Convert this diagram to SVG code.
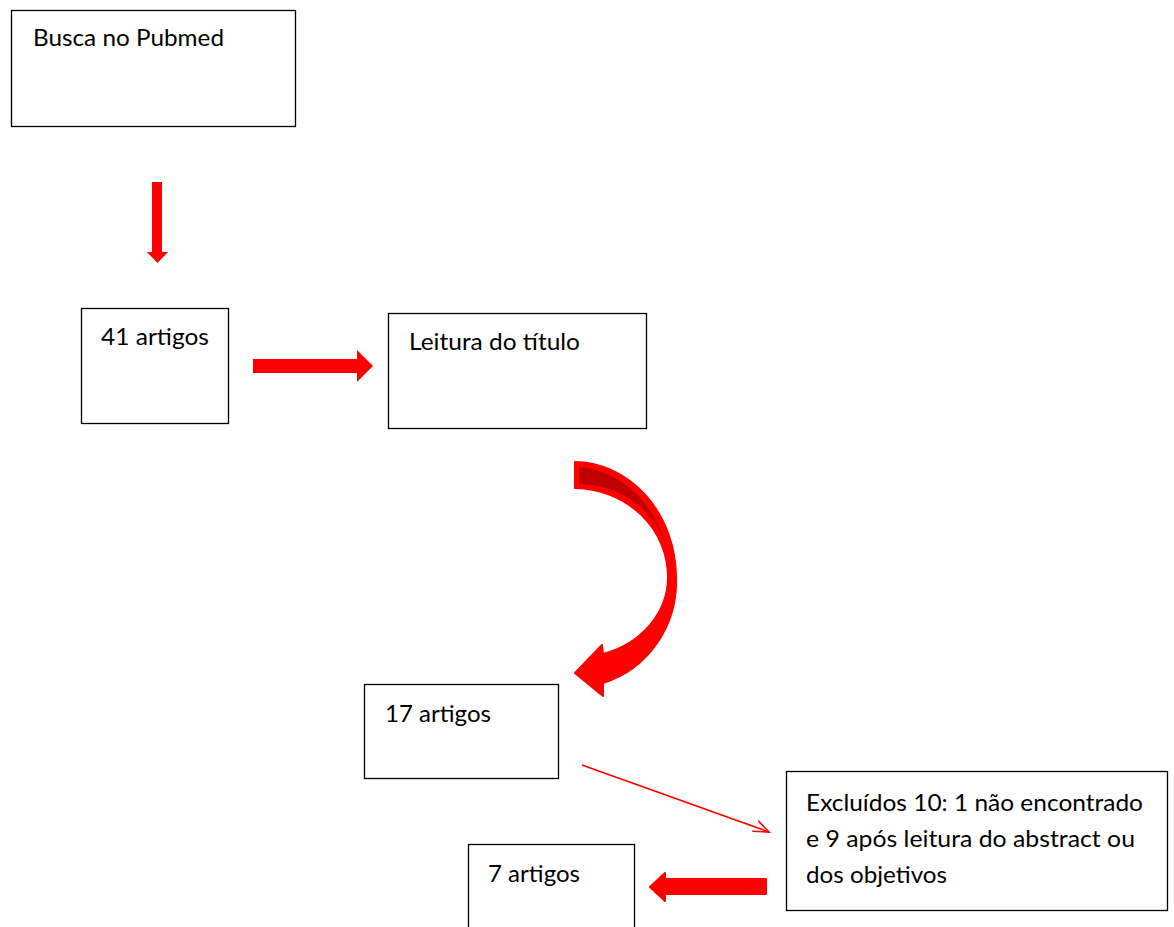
<svg xmlns="http://www.w3.org/2000/svg" width="1174" height="927" viewBox="0 0 1174 927">
<style>
.box{fill:#fff;stroke:#000;stroke-width:1.3}
.t{font-family:Lato,"Open Sans","Liberation Sans",sans-serif;font-size:24px;fill:#000}
.red{fill:#ff0000}
</style>
<defs>
<marker id="open" markerWidth="20" markerHeight="20" refX="18" refY="8" orient="auto" markerUnits="userSpaceOnUse">
<path d="M4,1 L18,8 L2,13" fill="none" stroke="#ff0000" stroke-width="1.6"/>
</marker>
</defs>
<rect width="1174" height="927" fill="#fff"/>
<g id="n-busca">
<rect class="box" x="11.5" y="10.5" width="284" height="116"/>
<text class="t" x="33" y="46" textLength="191" lengthAdjust="spacingAndGlyphs">Busca no Pubmed</text>
</g>
<g id="n-41">
<rect class="box" x="81.5" y="308.5" width="147" height="115"/>
<text class="t" x="101" y="345" textLength="108" lengthAdjust="spacingAndGlyphs">41 artigos</text>
</g>
<g id="n-leitura">
<rect class="box" x="388.5" y="313.5" width="258" height="115"/>
<text class="t" x="409" y="350" textLength="171" lengthAdjust="spacingAndGlyphs">Leitura do título</text>
</g>
<g id="n-17">
<rect class="box" x="364.5" y="684.5" width="194" height="94"/>
<text class="t" x="385" y="722" textLength="106" lengthAdjust="spacingAndGlyphs">17 artigos</text>
</g>
<g id="n-excluidos">
<rect class="box" x="786.5" y="771.5" width="381" height="139"/>
<text class="t" x="806" y="811" textLength="337" lengthAdjust="spacingAndGlyphs">Excluídos 10: 1 não encontrado</text>
<text class="t" x="806" y="847" textLength="329" lengthAdjust="spacingAndGlyphs">e 9 após leitura do abstract ou</text>
<text class="t" x="806" y="883" textLength="141" lengthAdjust="spacingAndGlyphs">dos objetivos</text>
</g>
<g id="n-7">
<rect class="box" x="468.5" y="844.5" width="166" height="100"/>
<text class="t" x="488" y="882" textLength="92" lengthAdjust="spacingAndGlyphs">7 artigos</text>
</g>
<g id="connectors">
<path class="red" d="M152,182 H162 V252 H168 L157.5,263 L147,252 H152 Z"/>
<path class="red" d="M253,359 H357 V350 L373,366 L357,382 V373 H253 Z"/>
<path class="red" stroke="#ff0000" stroke-width="2" stroke-linejoin="round" d="M575,462 A102,116 0 0 1 676,577 A102,106 0 0 1 603,683 L603,696 L575,673 L602,645 L603,654 A92,80 0 0 0 668,577 A94,89 0 0 0 575,488 Z"/>
<path fill="#c00000" d="M579,467 A98,112 0 0 1 669,560 A92,86 0 0 0 579,484 Z"/>
<line x1="582" y1="765" x2="769" y2="832" stroke="#ff0000" stroke-width="1.6" marker-end="url(#open)"/>
<path class="red" stroke="#ff0000" stroke-width="2" stroke-linejoin="round" d="M766,879 V894 H665 V901 L650,887 L665,873 V879 Z"/>
</g>
</svg>
